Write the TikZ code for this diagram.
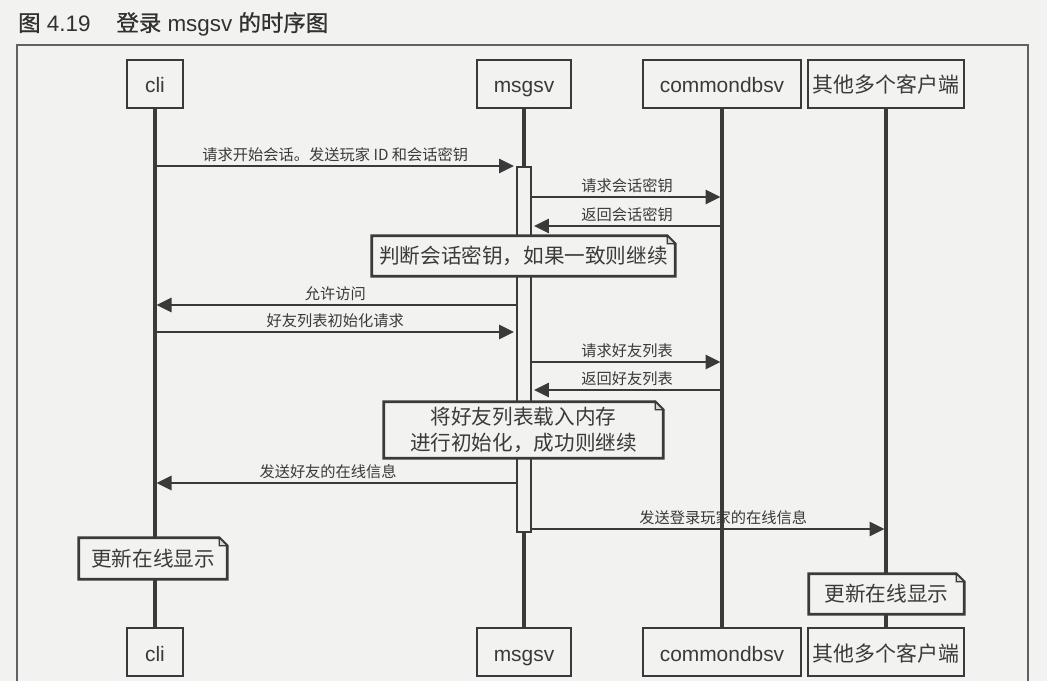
\documentclass[tikz,border=0pt]{standalone}
\usepackage{fontspec}
\setmainfont{Liberation Sans}
\newfontfamily\cjk{Noto Sans CJK SC}
\newfontfamily\cjkhalb[FakeBold=0.8]{Noto Sans CJK SC}
\usetikzlibrary{arrows.meta}
\definecolor{papier}{RGB}{242,242,240}
\definecolor{tinte}{RGB}{58,58,58}

\tikzset{
  kasten/.style={draw=tinte, line width=2.7bp, fill=papier, inner sep=0pt,
    minimum height=48bp, text height=20bp, text depth=2bp, text=tinte,
    font=\fontsize{21}{25}\selectfont},
  lebenslinie/.style={tinte, line width=4.2bp},
  nachricht/.style={tinte, line width=2.7bp, shorten >=1.5bp,
    -{Triangle[length=15bp,width=14bp]}},
  beschriftung/.style={above=2bp, inner sep=1bp, text=tinte,
    font=\cjk\fontsize{15.3}{18}\selectfont},
  notizfeld/.style={inner sep=0pt},
  notizrand/.style={draw=tinte, line width=2.7bp, fill=papier},
  notiztext/.style={align=center, text=tinte, font=\cjk\fontsize{20.7}{26}\selectfont},
  rahmen/.style={draw=tinte!80, line width=1.4bp}
}

% Notiz mit Eselsohr: Name, Mitte, Breite, Hoehe, Text
\newcommand{\notiz}[5]{%
  \node[notizfeld, minimum width=#3bp, minimum height=#4bp] (#1) at (#2) {};
  \draw[notizrand] (#1.north west) -- ([xshift=-8bp]#1.north east)
    -- ([yshift=-8bp]#1.north east) -- (#1.south east) -- (#1.south west) -- cycle;
  \draw[tinte, line width=1.2bp, fill=papier!85!tinte] ([xshift=-8bp]#1.north east)
    -- ([xshift=-8bp,yshift=-8bp]#1.north east) -- ([yshift=-8bp]#1.north east) -- cycle;
  \node[notiztext] (#1-text) at (#1) {#5};
}

\begin{document}
\begin{tikzpicture}[x=1bp, y=-1bp]

    % Hintergrund und Rahmen
    \clip (0,0) rectangle (1047,681);
    \fill[papier] (0,0) rectangle (1047,681);
    \draw[rahmen] (17,45) rectangle (1028,700);
    \node[anchor=west, inner sep=0pt, text=tinte!85!black,
      font=\fontsize{22.5}{26}\selectfont] (titel) at (18,24)
      {{\cjkhalb 图} 4.19\hspace{26bp}{\cjkhalb 登录} msgsv {\cjkhalb 的时序图}};

    % Teilnehmer oben und unten
    \foreach \name/\x/\breite/\txt in {cli/155/56/cli, msg/524/94/msgsv,
        db/722/158/commondbsv, oth/886/156/{\cjk 其他多个客户端}} {
        \node[kasten, minimum width=\breite bp] (\name T) at (\x,84) {\txt};
        \node[kasten, minimum width=\breite bp] (\name B) at (\x,652) {\txt};
        \draw[lebenslinie] (\name T.south) -- (\name B.north); % Lebenslinie
    }

    % Aktivierung von msgsv
    \node[kasten, minimum width=14bp, minimum height=365bp] (akt) at (524,349.5) {};

    % Nachrichten: von / nach / y / Position der Beschriftung / Text
    \foreach \von/\nach/\y/\wo/\txt in {
        cliT/akt.west/166/0.5/{请求开始会话。发送玩家 ID 和会话密钥},
        akt.east/dbT/197/0.5/请求会话密钥,
        dbT/akt.east/226/0.5/返回会话密钥,
        akt.west/cliT/305/0.5/允许访问,
        cliT/akt.west/332/0.5/好友列表初始化请求,
        akt.east/dbT/362/0.5/请求好友列表,
        dbT/akt.east/390/0.5/返回好友列表,
        akt.west/cliT/483/0.52/发送好友的在线信息,
        akt.east/othT/529/0.54/发送登录玩家的在线信息} {
        \draw[nachricht] (\von |- 0,\y) -- (\nach |- 0,\y)
            node[beschriftung, pos=\wo] (l\y) {\txt};
    }

    % Notizen
    \notiz{n1}{523.5,256}{303}{40}{判断会话密钥，如果一致则继续}
    \notiz{n2}{523.5,430}{279}{56}{将好友列表载入内存\\进行初始化，成功则继续}
    \notiz{n3}{153,558.5}{148}{41}{更新在线显示}
    \notiz{n4}{886.5,594}{155}{40}{更新在线显示}
\end{tikzpicture}
\end{document}
